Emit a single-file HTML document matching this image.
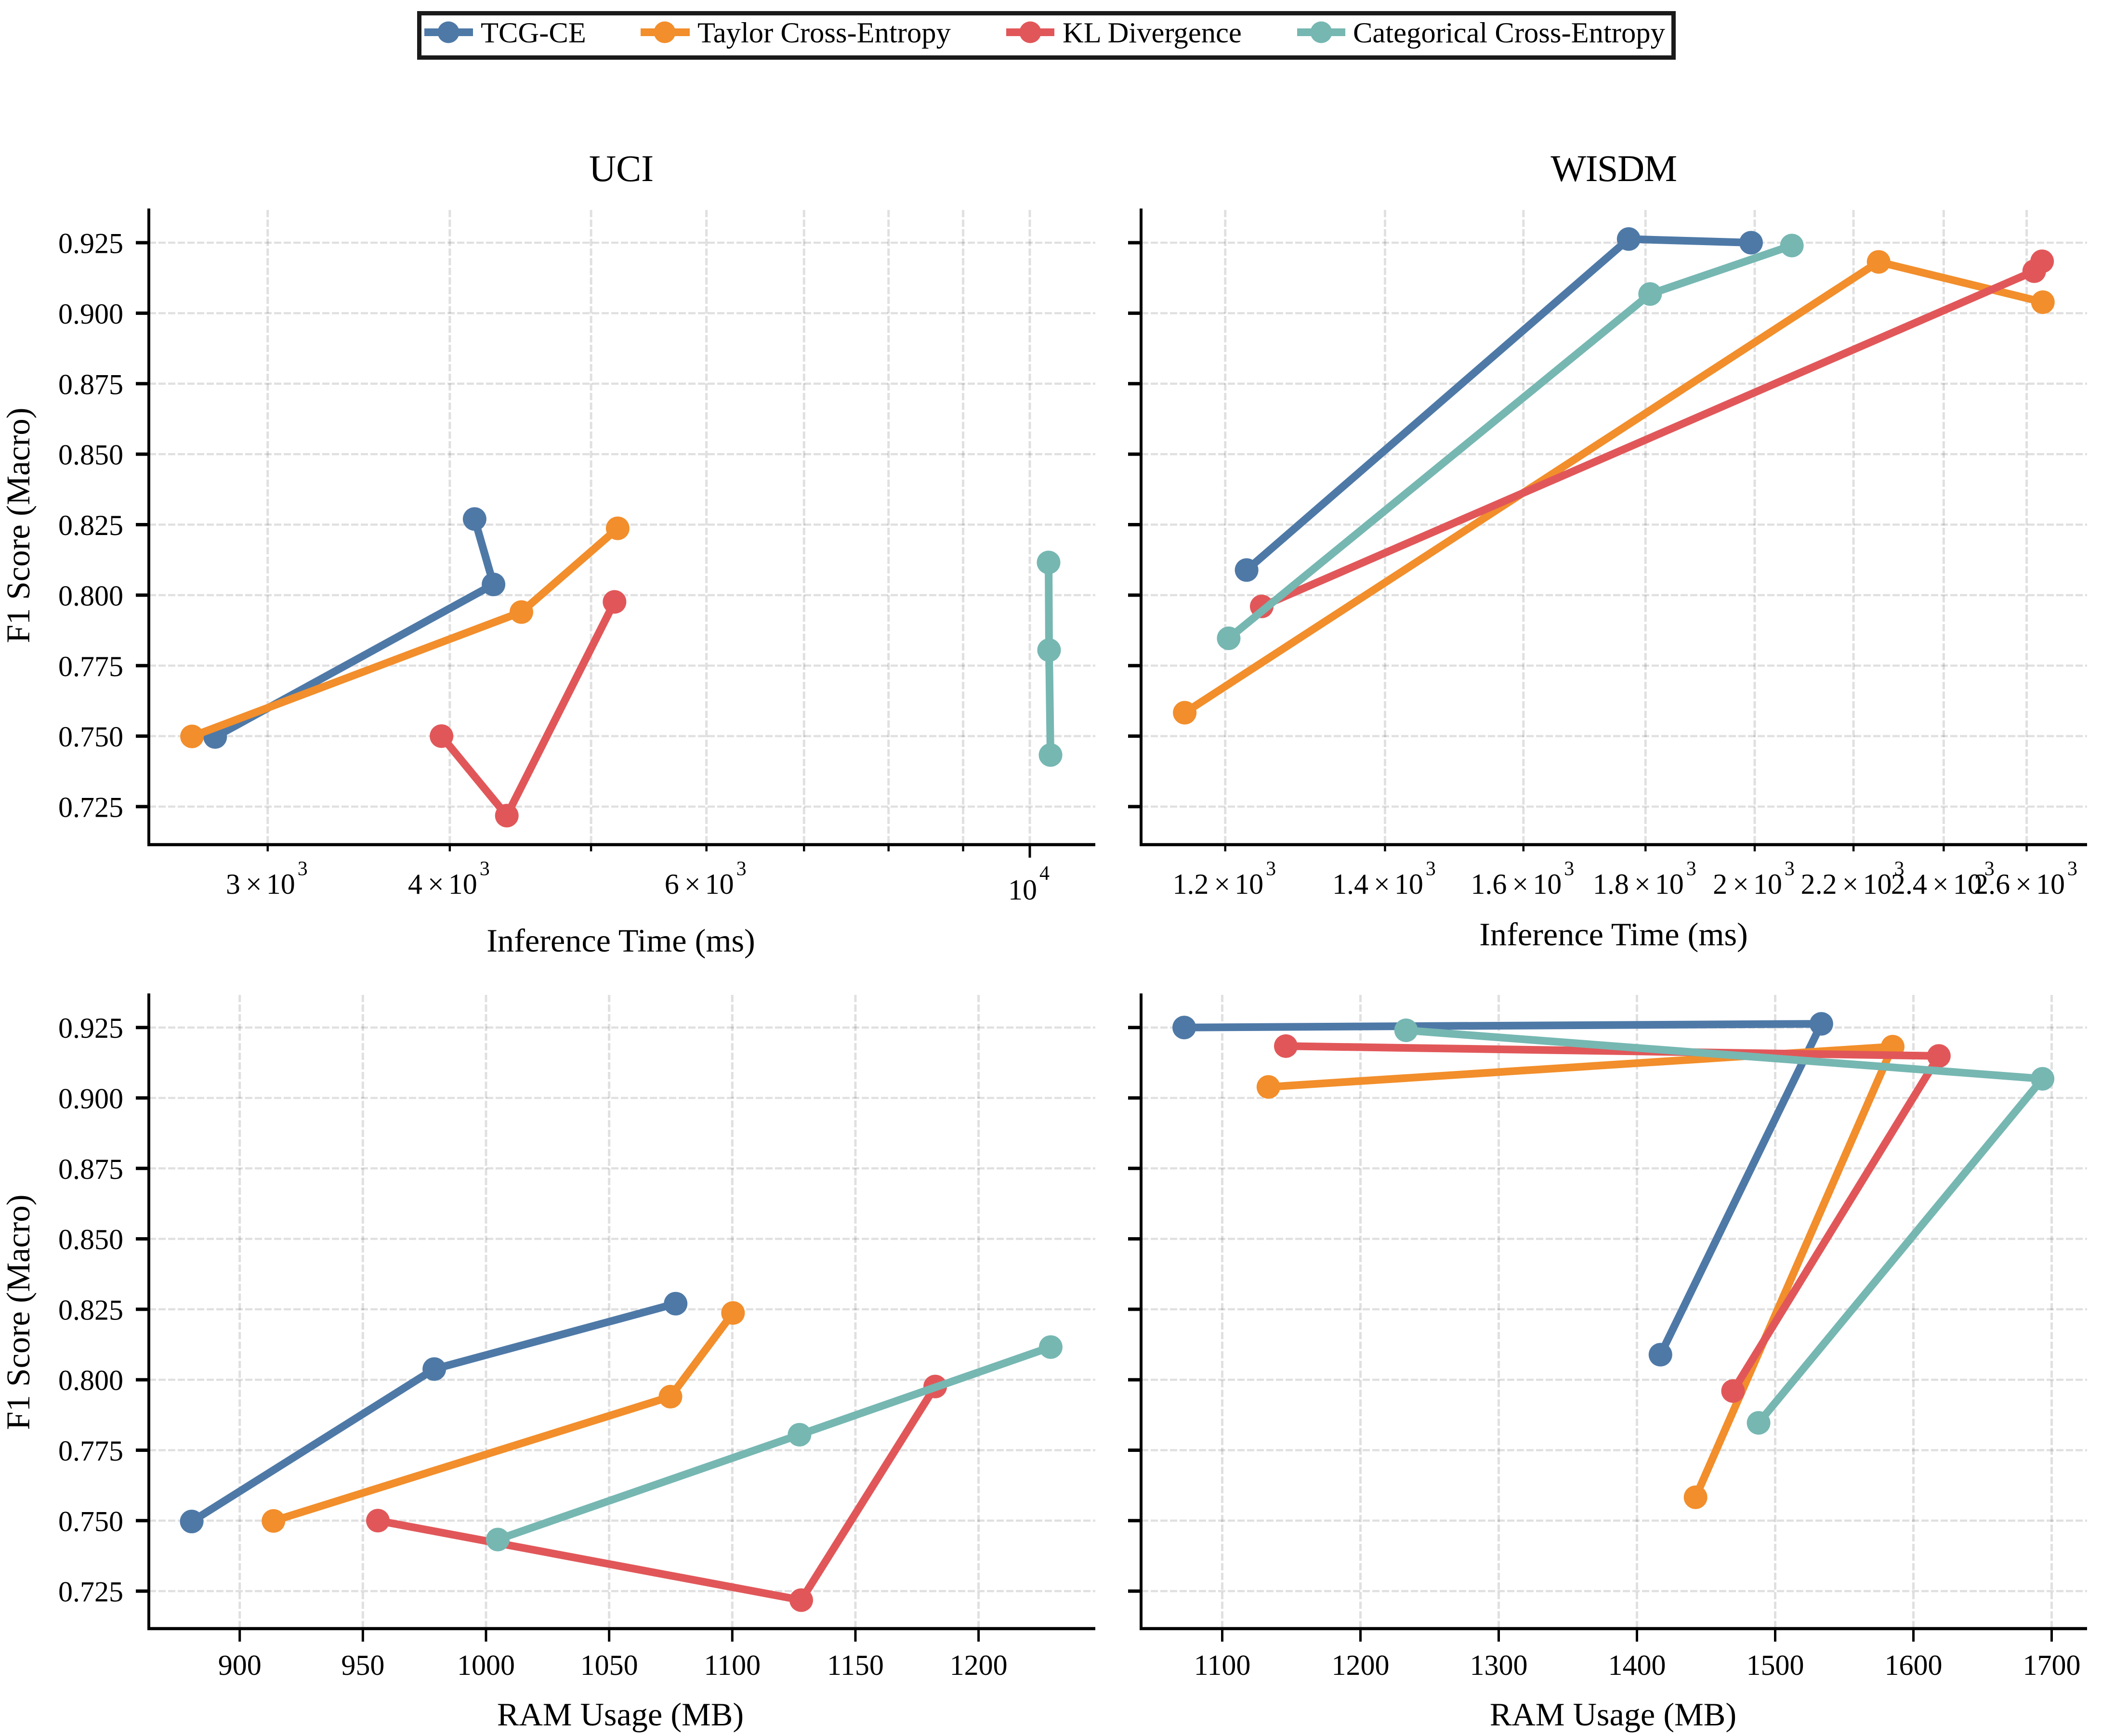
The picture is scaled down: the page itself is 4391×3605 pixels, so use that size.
<!DOCTYPE html>
<html lang="en">
<head>
<meta charset="utf-8">
<title>F1 Score vs Inference Time and RAM Usage</title>
<style>
  html, body { margin: 0; padding: 0; background: #ffffff; }
  svg { display: block; }
  text { font-family: "Liberation Serif", "Times New Roman", serif; fill: #000000; }
</style>
</head>
<body>
<svg id="figure" xmlns="http://www.w3.org/2000/svg" width="4391" height="3605" viewBox="0 0 4391 3605">
  <rect x="0" y="0" width="4391" height="3605" fill="#ffffff"/>
  <g id="panels"></g>
  <g>
    <rect x="870.5" y="27.5" width="2604" height="92" fill="#ffffff" stroke="#1a1a1a" stroke-width="9"/>
    <g>
      <line x1="881" y1="67" x2="982" y2="67" stroke="#4e79a7" stroke-width="16"/>
      <circle cx="931" cy="67" r="22.5" fill="#4e79a7"/>
      <text x="998" y="88" font-size="60.6">TCG-CE</text>
    </g>
    <g>
      <line x1="1330" y1="67" x2="1432" y2="67" stroke="#f28e2b" stroke-width="16"/>
      <circle cx="1380" cy="67" r="22.5" fill="#f28e2b"/>
      <text x="1448" y="88" font-size="60.6">Taylor Cross-Entropy</text>
    </g>
    <g>
      <line x1="2089" y1="67" x2="2189" y2="67" stroke="#e15759" stroke-width="16"/>
      <circle cx="2139" cy="67" r="22.5" fill="#e15759"/>
      <text x="2206" y="88" font-size="60.6">KL Divergence</text>
    </g>
    <g>
      <line x1="2693" y1="67" x2="2793" y2="67" stroke="#76b7b2" stroke-width="16"/>
      <circle cx="2743" cy="67" r="22.5" fill="#76b7b2"/>
      <text x="2809" y="88" font-size="60.6">Categorical Cross-Entropy</text>
    </g>
  </g>
</svg>
<script>
// ---- Data. Series order: TCG-CE, Taylor CE, KL Divergence, Categorical CE ----
const seriesNames = ["tcg-ce", "taylor-cross-entropy", "kl-divergence", "categorical-cross-entropy"];
const seriesColors = ["#4e79a7", "#f28e2b", "#e15759", "#76b7b2"];

const uciTime = [[2761, 4286, 4160], [2662, 4479, 5215], [3948, 4377, 5189], [10333, 10309, 10301]];
const uciRam = [[880.5, 979, 1077], [913.7, 1074.9, 1100.3], [956.1, 1128, 1182.4], [1004.8, 1127.3, 1229.3]];
const uciF1 = [[0.7497, 0.8038, 0.8270], [0.7499, 0.7940, 0.8237], [0.7500, 0.7218, 0.7976], [0.7433, 0.7805, 0.8116]];

const wisdmTime = [[1225, 1771, 1993], [1154, 2254, 2641], [1243, 2619, 2639], [1204, 1808, 2073]];
const wisdmRam = [[1417, 1533.4, 1072.5], [1442.4, 1585, 1133.4], [1469.5, 1618.4, 1146], [1488, 1693.4, 1233]];
const wisdmF1 = [[0.8089, 0.9263, 0.9250], [0.7583, 0.9182, 0.9039], [0.7960, 0.9149, 0.9184], [0.7847, 0.9068, 0.9240]];

const f1Ticks = [0.725, 0.750, 0.775, 0.800, 0.825, 0.850, 0.875, 0.900, 0.925];
const f1TickLabels = ["0.725", "0.750", "0.775", "0.800", "0.825", "0.850", "0.875", "0.900", "0.925"];

const uciTimeTicks = [3000, 4000, 5000, 6000, 7000, 8000, 9000, 10000];
const uciTimeLabels = ["3×10^3", "4×10^3", "", "6×10^3", "", "", "", "10^4"];
const wisdmTimeTicks = [1200, 1400, 1600, 1800, 2000, 2200, 2400, 2600];
const wisdmTimeLabels = ["1.2×10^3", "1.4×10^3", "1.6×10^3", "1.8×10^3", "2×10^3", "2.2×10^3", "2.4×10^3", "2.6×10^3"];
const uciRamTicks = [900, 950, 1000, 1050, 1100, 1150, 1200];
const uciRamLabels = ["900", "950", "1000", "1050", "1100", "1150", "1200"];
const wisdmRamTicks = [1100, 1200, 1300, 1400, 1500, 1600, 1700];
const wisdmRamLabels = ["1100", "1200", "1300", "1400", "1500", "1600", "1700"];

// ---- Axis functions ----
function logAxis(anchorValue, anchorPx, pxPerDecade) {
  return function (v) { return anchorPx + pxPerDecade * Math.log10(v / anchorValue); };
}
function linAxis(anchorValue, anchorPx, pxPerUnit) {
  return function (v) { return anchorPx + pxPerUnit * (v - anchorValue); };
}
function f1Axis(anchorPx, pxPerUnit) {
  return function (v) { return anchorPx + pxPerUnit * (0.925 - v); };
}

const SVG_NS = "http://www.w3.org/2000/svg";
const root = document.getElementById("panels");

function make(tag, attrs, parent) {
  const el = document.createElementNS(SVG_NS, tag);
  for (const key in attrs) el.setAttribute(key, attrs[key]);
  parent.appendChild(el);
  return el;
}

function drawTickLabel(parent, tickId, label, x, baseY, isMajorPower) {
  const t = make("text", { x: x, y: baseY, "font-size": 60, "text-anchor": "middle" }, parent);
  
  
  if (label.indexOf("^") < 0) {
    t.textContent = label;
    return;
  }
  const parts = label.split("^");
  const base = parts[0];
  const exp = parts[1];
  const supRise = isMajorPower ? -41 : -38.5;
  if (base.indexOf("×") >= 0) {
    const m = base.split("×");
    const s1 = make("tspan", {}, t);
    s1.textContent = m[0];
    const s2 = make("tspan", { dx: 11 }, t);
    s2.textContent = "×";
    const s3 = make("tspan", { dx: 9 }, t);
    s3.textContent = m[1];
  } else {
    const s0 = make("tspan", {}, t);
    s0.textContent = base;
  }
  const sup = make("tspan", { dx: 5, dy: supRise, "font-size": 42 }, t);
  sup.textContent = exp;
}

function drawPanel(p) {
  const g = make("g", {}, root);
  
  

  const gridG = make("g", {}, g);
  
  

  p.xTicks.forEach(function (v, i) {
    const x = p.xScale(v);
    const ln = make("line", { x1: x, x2: x, y1: p.top + 3, y2: p.bottom, stroke: "#000000", "stroke-opacity": 0.12, "stroke-width": 5, "stroke-dasharray": "15 5" }, gridG);
    
    
  });
  f1Ticks.forEach(function (v, i) {
    const y = p.yScale(v);
    const ln = make("line", { x1: p.left, x2: p.right, y1: y, y2: y, stroke: "#000000", "stroke-opacity": 0.12, "stroke-width": 4.5, "stroke-dasharray": "15 5" }, gridG);
    
    
  });

  p.xs.forEach(function (seriesX, s) {
    const sg = make("g", {}, g);
    
    
    const pts = seriesX.map(function (xv, k) {
      return p.xScale(xv).toFixed(1) + "," + p.yScale(p.ys[s][k]).toFixed(1);
    }).join(" ");
    const pl = make("polyline", { points: pts, fill: "none", stroke: seriesColors[s], "stroke-width": 16, "stroke-linejoin": "round", "stroke-linecap": "butt" }, sg);
    
    
    seriesX.forEach(function (xv, k) {
      const c = make("circle", { cx: p.xScale(xv), cy: p.yScale(p.ys[s][k]), r: 24.5, fill: seriesColors[s] }, sg);
      
      
    });
  });

  const axisG = make("g", {}, g);
  
  

  const ySpine = make("line", { x1: p.left, x2: p.left, y1: p.top, y2: p.bottom + 3, stroke: "#000000", "stroke-width": 6 }, axisG);
  
  
  const xSpine = make("line", { x1: p.left - 3, x2: p.right, y1: p.bottom, y2: p.bottom, stroke: "#000000", "stroke-width": 6.5 }, axisG);
  
  

  f1Ticks.forEach(function (v, i) {
    const y = p.yScale(v);
    const tk = make("line", { x1: p.left - 27, x2: p.left, y1: y, y2: y, stroke: "#000000", "stroke-width": 7 }, axisG);
    
    
    if (p.showYLabels) {
      const lb = make("text", { x: 256, y: y + 21.5, "font-size": 60, "text-anchor": "end" }, axisG);
      
      
      lb.textContent = f1TickLabels[i];
    }
  });

  p.xTicks.forEach(function (v, i) {
    const x = p.xScale(v);
    const isLong = p.longTick(v);
    const tk = make("line", { x1: x, x2: x, y1: p.bottom, y2: p.bottom + (isLong ? 27 : 14), stroke: "#000000", "stroke-width": isLong ? 5 : 4.5 }, axisG);
    
    
    const label = p.xLabels[i];
    if (label) {
      const isPower = label.indexOf("^") >= 0 && label.indexOf("×") < 0;
      const baseY = label.indexOf("^") < 0 ? p.bottom + 96 : (isPower ? p.bottom + 114 : p.bottom + 102);
      drawTickLabel(axisG, p.id + "-" + i, label, x + (label.indexOf("^") >= 0 ? -2 : 0), baseY, isPower);
    }
  });

  const xt = make("text", { x: p.xTitleX, y: p.xTitleY, "font-size": 68.3, "text-anchor": "middle" }, axisG);
  
  
  xt.textContent = p.xTitle;

  if (p.showYLabels) {
    const yt = make("text", { x: 0, y: 0, "font-size": 68.8, "text-anchor": "middle", transform: "translate(61," + p.yTitleY + ") rotate(-90)" }, axisG);
    
    
    yt.textContent = "F1 Score (Macro)";
  }

  if (p.title) {
    const tt = make("text", { x: p.titleX, y: 376, "font-size": 78, "text-anchor": "middle", "letter-spacing": p.titleSpacing }, axisG);
    
    
    tt.textContent = p.title;
  }
}

const topY = f1Axis(504, 5855);
const bottomY = f1Axis(2133.7, 5852);
function never() { return false; }

drawPanel({
  id: "uci-time", title: "UCI", titleX: 1290, titleSpacing: 0,
  left: 309, right: 2274, top: 433, bottom: 1754,
  xScale: logAxis(10000, 2138, 3026), yScale: topY,
  xs: uciTime, ys: uciF1,
  xTicks: uciTimeTicks, xLabels: uciTimeLabels,
  longTick: function (v) { return v === 10000; },
  xTitle: "Inference Time (ms)", xTitleX: 1289, xTitleY: 1976,
  showYLabels: true, yTitleY: 1091
});
drawPanel({
  id: "wisdm-time", title: "WISDM", titleX: 3350, titleSpacing: -1.5,
  left: 2369, right: 4333, top: 433, bottom: 1754,
  xScale: logAxis(2000, 3643, 4955), yScale: topY,
  xs: wisdmTime, ys: wisdmF1,
  xTicks: wisdmTimeTicks, xLabels: wisdmTimeLabels,
  longTick: never,
  xTitle: "Inference Time (ms)", xTitleX: 3350, xTitleY: 1963,
  showYLabels: false
});
drawPanel({
  id: "uci-ram", title: "",
  left: 309, right: 2274, top: 2063, bottom: 3382,
  xScale: linAxis(900, 497.7, 5.113), yScale: bottomY,
  xs: uciRam, ys: uciF1,
  xTicks: uciRamTicks, xLabels: uciRamLabels,
  longTick: function () { return true; },
  xTitle: "RAM Usage (MB)", xTitleX: 1288, xTitleY: 3583,
  showYLabels: true, yTitleY: 2725
});
drawPanel({
  id: "wisdm-ram", title: "",
  left: 2369, right: 4333, top: 2063, bottom: 3382,
  xScale: linAxis(1100, 2537.5, 2.87), yScale: bottomY,
  xs: wisdmRam, ys: wisdmF1,
  xTicks: wisdmRamTicks, xLabels: wisdmRamLabels,
  longTick: function () { return true; },
  xTitle: "RAM Usage (MB)", xTitleX: 3349, xTitleY: 3583,
  showYLabels: false
});
</script>
</body>
</html>
